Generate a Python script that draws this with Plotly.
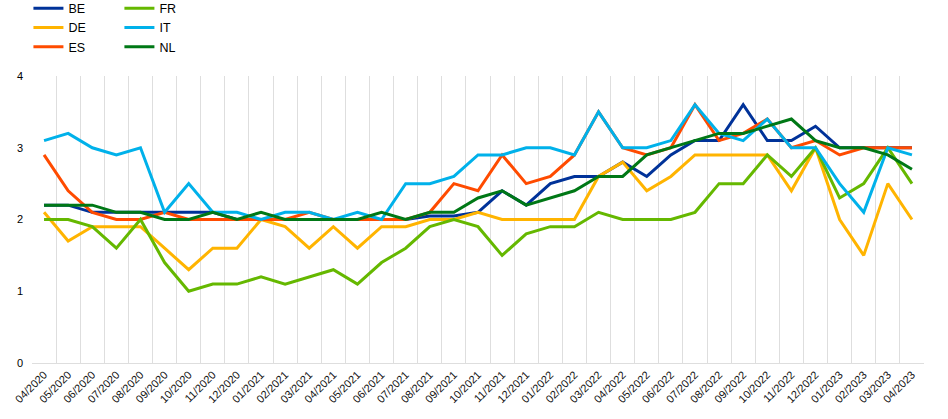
import plotly.graph_objects as go

months = ["04/2020", "05/2020", "06/2020", "07/2020", "08/2020", "09/2020", "10/2020", "11/2020", "12/2020",
          "01/2021", "02/2021", "03/2021", "04/2021", "05/2021", "06/2021", "07/2021", "08/2021", "09/2021",
          "10/2021", "11/2021", "12/2021", "01/2022", "02/2022", "03/2022", "04/2022", "05/2022", "06/2022",
          "07/2022", "08/2022", "09/2022", "10/2022", "11/2022", "12/2022", "01/2023", "02/2023", "03/2023",
          "04/2023"]

BE = [2.2, 2.2, 2.1, 2.1, 2.1, 2.1, 2.1, 2.1, 2.0, 2.0, 2.0, 2.0, 2.0, 2.0, 2.0, 2.0, 2.05, 2.05, 2.1, 2.4,
      2.2, 2.5, 2.6, 2.6, 2.8, 2.6, 2.9, 3.1, 3.1, 3.6, 3.1, 3.1, 3.3, 3.0, 3.0, 3.0, 3.0]
DE = [2.1, 1.7, 1.9, 1.9, 1.9, 1.6, 1.3, 1.6, 1.6, 2.0, 1.9, 1.6, 1.9, 1.6, 1.9, 1.9, 2.0, 2.0, 2.1, 2.0,
      2.0, 2.0, 2.0, 2.6, 2.8, 2.4, 2.6, 2.9, 2.9, 2.9, 2.9, 2.4, 3.0, 2.0, 1.5, 2.5, 2.0]
ES = [2.9, 2.4, 2.1, 2.0, 2.0, 2.1, 2.0, 2.0, 2.0, 2.0, 2.0, 2.1, 2.0, 2.0, 2.0, 2.0, 2.1, 2.5, 2.4, 2.9,
      2.5, 2.6, 2.9, 3.5, 3.0, 2.9, 3.0, 3.6, 3.1, 3.2, 3.4, 3.0, 3.1, 2.9, 3.0, 3.0, 3.0]
FR = [2.0, 2.0, 1.9, 1.6, 2.0, 1.4, 1.0, 1.1, 1.1, 1.2, 1.1, 1.2, 1.3, 1.1, 1.4, 1.6, 1.9, 2.0, 1.9, 1.5,
      1.8, 1.9, 1.9, 2.1, 2.0, 2.0, 2.0, 2.1, 2.5, 2.5, 2.9, 2.6, 3.0, 2.3, 2.5, 3.0, 2.5]
IT = [3.1, 3.2, 3.0, 2.9, 3.0, 2.1, 2.5, 2.1, 2.1, 2.0, 2.1, 2.1, 2.0, 2.1, 2.0, 2.5, 2.5, 2.6, 2.9, 2.9,
      3.0, 3.0, 2.9, 3.5, 3.0, 3.0, 3.1, 3.6, 3.2, 3.1, 3.4, 3.0, 3.0, 2.5, 2.1, 3.0, 2.9]
NL = [2.2, 2.2, 2.2, 2.1, 2.1, 2.0, 2.0, 2.1, 2.0, 2.1, 2.0, 2.0, 2.0, 2.0, 2.1, 2.0, 2.1, 2.1, 2.3, 2.4,
      2.2, 2.3, 2.4, 2.6, 2.6, 2.9, 3.0, 3.1, 3.2, 3.2, 3.3, 3.4, 3.1, 3.0, 3.0, 2.9, 2.7]

y_ticks = [0, 1, 2, 3, 4]
y_grid = [0, 1, 2, 3]

series = [
    ("BE", BE, "#003299", "legend"),
    ("DE", DE, "#FFB400", "legend"),
    ("ES", ES, "#FF4B00", "legend"),
    ("FR", FR, "#65B800", "legend2"),
    ("IT", IT, "#00B1EA", "legend2"),
    ("NL", NL, "#007816", "legend2"),
]

fig = go.Figure()
for name, vals, color, leg in series:
    fig.add_trace(go.Scatter(x=months, y=vals, name=name, mode="lines",
                             line=dict(color=color, width=3), legend=leg))

legend_style = dict(font=dict(family="Liberation Sans, Arial, sans-serif", size=12.5, color="#000000"),
                    bgcolor="rgba(0,0,0,0)", tracegroupgap=0, itemwidth=30,
                    yanchor="top", xanchor="left", orientation="v")

grid_col = "#dedede"
fig.update_layout(
    width=948, height=419,
    margin=dict(l=32, r=24, t=76, b=56, autoexpand=False),
    paper_bgcolor="white", plot_bgcolor="white",
    font=dict(family="Liberation Sans, Arial, sans-serif", size=11, color="#000000"),
    legend=dict(x=-0.004, y=1.287, **legend_style),
    legend2=dict(x=0.098, y=1.287, **legend_style),
    xaxis=dict(type="category", tickson="boundaries", showgrid=True, gridcolor=grid_col, gridwidth=1,
               tickangle=-45, ticks="", showline=True, linecolor=grid_col, automargin=False,
               tickfont=dict(size=11, color="#111111"), range=[-0.5, len(months) - 0.5]),
    yaxis=dict(range=[0, 4], tickvals=y_ticks, showgrid=False, zeroline=False, ticks="",
               automargin=False, ticklabelstandoff=8, tickfont=dict(size=11, color="#000000")),
    yaxis2=dict(overlaying="y", range=[0, 4], tickvals=y_grid, showgrid=True, gridcolor=grid_col,
                gridwidth=1, zeroline=False, showticklabels=False, ticks="", automargin=False),
)

fig.write_html("out.html", config={"displayModeBar": False},
               post_script="document.body.style.margin='0';")
